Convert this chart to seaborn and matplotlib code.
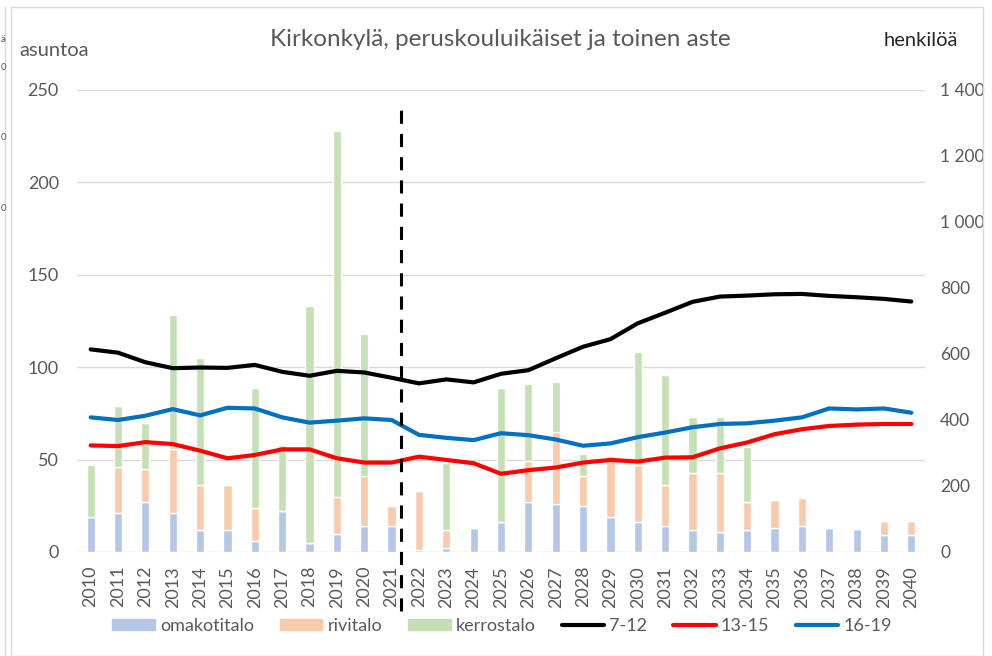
import numpy as np
import pandas as pd
import matplotlib
matplotlib.use("Agg")
import matplotlib.pyplot as plt
import seaborn as sns
from matplotlib.patches import Patch, Rectangle
from matplotlib.lines import Line2D
from matplotlib.ticker import FuncFormatter

# data
vuodet = [str(v) for v in range(2010, 2041)]
omakotitalo = [19, 21, 27, 21, 12, 12, 6, 22, 5, 10, 14, 14, 1, 2, 13, 16,
               27, 26, 25, 19, 16, 14, 12, 11, 12, 13, 14, 13, 12.5, 9, 9]
rivitalo = [0, 25, 18, 35, 24, 24, 18, 0, 0, 20, 27, 11, 32, 10, 0, 0,
            22, 39, 16, 33, 31, 22, 31, 32, 15, 15, 15, 0, 0, 8, 8]
kerrostalo = [28, 33, 25, 72, 69, 0, 65, 36, 128, 198, 77, 0, 0, 36, 0, 73,
              42, 27, 12, 0, 61, 60, 30, 30, 30, 0, 0, 0, 0, 0, 0]
ika_7_12 = [614, 604, 575, 557, 559, 558, 567, 546, 534, 549, 544, 528, 511, 523, 514, 540,
            551, 587, 622, 645, 693, 725, 758, 774, 777, 781, 782, 776, 772, 767, 759]
ika_13_15 = [323, 321, 333, 327, 307, 284, 294, 311, 311, 284, 271, 271, 289, 279, 269, 237,
             248, 256, 271, 279, 274, 286, 287, 314, 332, 357, 372, 382, 386, 388, 388]
ika_16_19 = [408, 400, 413, 433, 414, 437, 435, 408, 392, 398, 405, 400, 355, 346, 339, 360,
             354, 341, 322, 329, 348, 362, 378, 388, 390, 398, 408, 435, 432, 435, 422]

sns.set_style("white")
plt.rcParams["font.family"] = ["Lato", "DejaVu Sans"]

harmaa = "#595959"
c_oka = "#B4C7E7"
c_riv = "#F8CBAD"
c_ker = "#C5E0B4"
c_blue = "#0070C0"

df = pd.DataFrame({"vuosi": vuodet, "omakotitalo": omakotitalo,
                   "rivitalo": rivitalo, "kerrostalo": kerrostalo})
pohja2 = np.array(omakotitalo) + np.array(rivitalo)

fig = plt.figure(figsize=(9.92, 6.56), dpi=100)
ax = fig.add_axes([77 / 992, 1 - 552 / 656, (925 - 77) / 992, 462 / 656])

sns.barplot(data=df, x="vuosi", y="omakotitalo", color=c_oka, saturation=1,
            width=0.3, ax=ax)
sns.barplot(data=df, x="vuosi", y="rivitalo", color=c_riv, saturation=1,
            width=0.3, bottom=np.array(omakotitalo), ax=ax)
sns.barplot(data=df, x="vuosi", y="kerrostalo", color=c_ker, saturation=1,
            width=0.3, bottom=pohja2, ax=ax)

ax.set_xlim(-0.5, 30.5)
ax.set_ylim(0, 250)
ax.set_yticks([0, 50, 100, 150, 200, 250])
ax.set_axisbelow(True)
ax.yaxis.grid(True, color="#D9D9D9", lw=1)
ax.set_xlabel("")
ax.set_ylabel("")
ax.tick_params(axis="both", length=0, labelsize=13, labelcolor=harmaa)
ax.tick_params(axis="y", pad=13)
ax.tick_params(axis="x", rotation=90, pad=10)
for s in ax.spines.values():
    s.set_visible(False)

ax2 = ax.twinx()
x = np.arange(len(vuodet))
sns.lineplot(x=x, y=ika_7_12, color="black", lw=3, ax=ax2, legend=False)
sns.lineplot(x=x, y=ika_13_15, color="#FF0000", lw=3, ax=ax2, legend=False)
sns.lineplot(x=x, y=ika_16_19, color=c_blue, lw=3, ax=ax2, legend=False)
ax2.set_ylim(0, 1400)
ax2.set_yticks(range(0, 1401, 200))
ax2.yaxis.set_major_formatter(FuncFormatter(lambda v, p: f"{int(v):,}".replace(",", " ")))
ax2.tick_params(axis="y", length=0, labelsize=12.5, labelcolor=harmaa, pad=11)
ax2.set_ylabel("")
for s in ax2.spines.values():
    s.set_visible(False)

# projection divider
ax2.axvline(11.35, ymin=-0.128, ymax=0.97, color="black", lw=2.2,
            linestyle=(0, (4.3, 3.3)), clip_on=False)

fig.text(0.504, 1 - 40 / 656, "Kirkonkylä, peruskouluikäiset ja toinen aste",
         ha="center", va="center", fontsize=17.5, color=harmaa)
fig.text(19 / 992, 1 - 50 / 656, "asuntoa", ha="left", va="center",
         fontsize=14.5, color=harmaa)
fig.text(884 / 992, 1 - 40 / 656, "henkilöä", ha="left", va="center",
         fontsize=14.5, color="#262626")

handles = [Patch(color=c_oka), Patch(color=c_riv), Patch(color=c_ker),
           Line2D([], [], color="black", lw=3),
           Line2D([], [], color="#FF0000", lw=3),
           Line2D([], [], color=c_blue, lw=3)]
labels = ["omakotitalo", "rivitalo", "kerrostalo", "7-12", "13-15", "16-19"]
leg = fig.legend(handles, labels, loc="center", bbox_to_anchor=(0.506, 1 - 626 / 656),
                 ncol=6, frameon=False, fontsize=13, handlelength=2.35,
                 handleheight=0.55, handletextpad=0.28, columnspacing=1.45)
for t in leg.get_texts():
    t.set_color(harmaa)

# chart frame and remnants of the neighbouring chart
fig.patches.append(Rectangle((11 / 992, 0.5 / 656), (983 - 11) / 992, (649 - 0.5) / 656,
                             transform=fig.transFigure, fill=False, ec="#D9D9D9", lw=1))
fig.add_artist(Line2D([5 / 992, 5 / 992], [0, 1 - 7 / 656], color="#D9D9D9", lw=1,
                      transform=fig.transFigure))
for yy, tt in [(40, "ä"), (68, "0"), (138, "0"), (208, "0")]:
    fig.text(0.5 / 992, 1 - yy / 656, tt, ha="left", va="center", fontsize=7, color=harmaa)

fig.savefig("out.png", dpi=100)
